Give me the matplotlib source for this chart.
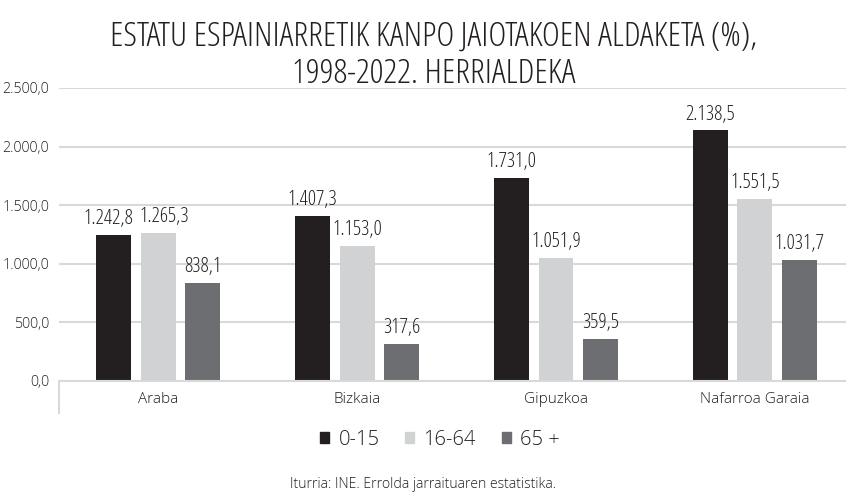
import matplotlib
matplotlib.use("Agg")
import matplotlib.pyplot as plt
import numpy as np
from matplotlib import font_manager as fm
from matplotlib.patches import Rectangle
from matplotlib.lines import Line2D
from matplotlib.transforms import offset_copy

regions = ["Araba", "Bizkaia", "Gipuzkoa", "Nafarroa Garaia"]
series_names = ["0-15", "16-64", "65 +"]
vals_0_15 = [1242.8, 1407.3, 1731.0, 2138.5]
vals_16_64 = [1265.3, 1153.0, 1051.9, 1551.5]
vals_65 = [838.1, 317.6, 359.5, 1031.7]
series_colors = ["#231f20", "#d1d2d4", "#6d6e71"]
yticks = [0, 500, 1000, 1500, 2000, 2500]

title_lines = ["ESTATU ESPAINIARRETIK KANPO JAIOTAKOEN ALDAKETA (%),",
               "1998-2022. HERRIALDEKA"]
source = "Iturria: INE. Errolda jarraituaren estatistika."

W, H = 846, 497
DPI = 100
fig = plt.figure(figsize=(W / DPI, H / DPI), dpi=DPI)
renderer = fig.canvas.get_renderer()


def light_font(size, stretch="condensed"):
    # Open Sans Light in the requested width; default family otherwise
    for f in fm.fontManager.ttflist:
        if f.name == "Open Sans" and f.stretch == stretch and f.weight == 300 \
                and f.style == "normal":
            return fm.FontProperties(fname=f.fname, size=size)
    return fm.FontProperties(family="DejaVu Sans", size=size)


def fmt(v, dec=1):
    s = f"{v:,.{dec}f}"
    return s.replace(",", "X").replace(".", ",").replace("X", ".")


title_fp = light_font(24.8)
value_fp = light_font(14.8)
cat_fp = light_font(11, "normal")
ytick_fp = light_font(10.3, "normal")
legend_fp = light_font(14.5, "normal")
source_fp = light_font(10.1, "normal")

pitch = 198.8
ax = fig.add_axes([59 / W, 1 - 381 / H, 4 * pitch / W, (381 - 88) / H])

x = np.arange(len(regions))
width = 0.176
step = 0.224
text_col = "#231f20"
labels = []
for i, (vals, col) in enumerate(zip([vals_0_15, vals_16_64, vals_65], series_colors)):
    pos = x + (i - 1) * step
    ax.bar(pos, vals, width=width, color=col, zorder=3)
    labels.append([ax.text(p, v + 50, fmt(v), ha="center", va="bottom",
                           fontproperties=value_fp, color=text_col)
                   for p, v in zip(pos, vals)])

ax.set_xlim(-0.5, len(regions) - 0.5)
ax.set_ylim(0, 2500)
ax.set_yticks(yticks)
ax.set_yticklabels([fmt(t) for t in yticks], color=text_col)
for lbl in ax.get_yticklabels():
    lbl.set_fontproperties(ytick_fp)
ax.yaxis.grid(True, color="#d9d9d9", linewidth=1.5, zorder=0)
ax.set_axisbelow(True)
ax.tick_params(axis="y", length=0, pad=7)
ax.set_xticks(x)
ax.set_xticklabels(regions, color=text_col)
for lbl in ax.get_xticklabels():
    lbl.set_fontproperties(cat_fp)
ax.tick_params(axis="x", length=0, pad=8)
for s in ["top", "right", "left"]:
    ax.spines[s].set_visible(False)
ax.spines["bottom"].set_color("#d9d9d9")
ax.spines["bottom"].set_linewidth(1.5)
ax.spines["bottom"].set_zorder(4)

# tick at the left end of the category axis
ax.add_line(Line2D([-0.5, -0.5], [0, -270], color="#d9d9d9", linewidth=1.5,
                   clip_on=False))

# push apart value labels of neighbouring bars that would collide
fig.canvas.draw()
gap = 6
for c in range(len(regions)):
    for i in range(len(labels) - 1):
        a, b = labels[i][c], labels[i + 1][c]
        ea, eb = a.get_window_extent(renderer), b.get_window_extent(renderer)
        if ea.y0 < eb.y1 and eb.y0 < ea.y1:
            overlap = ea.x1 - eb.x0 + gap
            if overlap > 0:
                a.set_transform(offset_copy(a.get_transform(), fig=fig,
                                            x=-overlap / 2, units="dots"))
                b.set_transform(offset_copy(b.get_transform(), fig=fig,
                                            x=overlap / 2, units="dots"))

title_x = 434 / W
fig.text(title_x, 1 - 46 / H, title_lines[0], ha="center", va="baseline",
         fontproperties=title_fp, color=text_col)
fig.text(title_x, 1 - 83 / H, title_lines[1], ha="center", va="baseline",
         fontproperties=title_fp, color=text_col)

em = legend_fp.get_size_in_points() * DPI / 72
handles = [Rectangle((0, 0), 1, 1, color=c) for c in series_colors]
leg = fig.legend(handles, series_names, loc="center", bbox_to_anchor=(440 / W, 1 - 440 / H),
                 ncol=3, frameon=False, prop=legend_fp, handlelength=9 / em,
                 handleheight=9 / em, handletextpad=9 / em, columnspacing=26 / em,
                 borderpad=0, borderaxespad=0)
for t in leg.get_texts():
    t.set_color(text_col)

fig.text(423 / W, 1 - 484 / H, source, ha="center", va="center",
         fontproperties=source_fp, color=text_col)

fig.savefig("out.png", dpi=DPI)
